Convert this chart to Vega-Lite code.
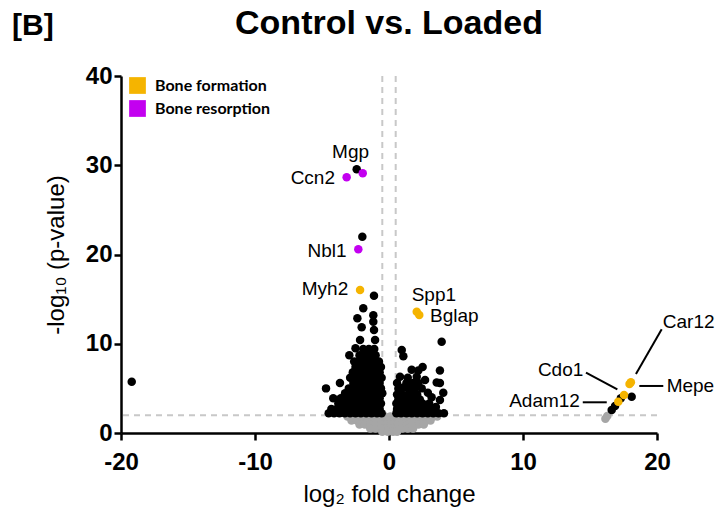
{
  "$schema": "https://vega.github.io/schema/vega-lite/v6.json",
  "width": 536,
  "height": 357,
  "autosize": {"type": "none"},
  "padding": {"left": 121, "top": 76, "right": 59, "bottom": 77},
  "background": "white",
  "config": {
    "view": {"stroke": null},
    "font": "Liberation Sans",
    "axis": {"grid": false}
  },
  "title": {
    "text": "Control vs. Loaded",
    "fontSize": 34,
    "fontWeight": "bold",
    "font": "Liberation Sans",
    "color": "black",
    "anchor": "middle",
    "frame": "group",
    "baseline": "alphabetic",
    "offset": -57
  },
  "datasets": {
    "pts": [
      {"x": -3.1, "y": 1.85, "g": "n"}, {"x": -2.7, "y": 1.85, "g": "n"}, {"x": -2.3, "y": 1.85, "g": "n"}, {"x": -1.9, "y": 1.85, "g": "n"}, {"x": -1.5, "y": 1.85, "g": "n"}, {"x": -1.1, "y": 1.85, "g": "n"}, {"x": -0.7, "y": 1.85, "g": "n"}, {"x": -0.3, "y": 1.85, "g": "n"}, {"x": 0.1, "y": 1.85, "g": "n"}, {"x": 0.5, "y": 1.85, "g": "n"}, {"x": 0.9, "y": 1.85, "g": "n"}, {"x": 1.3, "y": 1.85, "g": "n"}, {"x": 1.7, "y": 1.85, "g": "n"}, {"x": 2.1, "y": 1.85, "g": "n"}, {"x": 2.5, "y": 1.85, "g": "n"}, {"x": 2.9, "y": 1.85, "g": "n"}, {"x": 3.3, "y": 1.85, "g": "n"}, {"x": 3.6, "y": 1.85, "g": "n"},
      {"x": -2.8, "y": 1.4, "g": "n"}, {"x": -2.4, "y": 1.4, "g": "n"}, {"x": -2.0, "y": 1.4, "g": "n"}, {"x": -1.6, "y": 1.4, "g": "n"}, {"x": -1.2, "y": 1.4, "g": "n"}, {"x": -0.8, "y": 1.4, "g": "n"}, {"x": -0.4, "y": 1.4, "g": "n"}, {"x": 0.0, "y": 1.4, "g": "n"}, {"x": 0.4, "y": 1.4, "g": "n"}, {"x": 0.8, "y": 1.4, "g": "n"}, {"x": 1.2, "y": 1.4, "g": "n"}, {"x": 1.6, "y": 1.4, "g": "n"}, {"x": 2.0, "y": 1.4, "g": "n"}, {"x": 2.4, "y": 1.4, "g": "n"}, {"x": 2.8, "y": 1.4, "g": "n"}, {"x": 3.1, "y": 1.4, "g": "n"},
      {"x": -2.2, "y": 0.95, "g": "n"}, {"x": -1.8, "y": 0.95, "g": "n"}, {"x": -1.4, "y": 0.95, "g": "n"}, {"x": -1.0, "y": 0.95, "g": "n"}, {"x": -0.6, "y": 0.95, "g": "n"}, {"x": -0.2, "y": 0.95, "g": "n"}, {"x": 0.2, "y": 0.95, "g": "n"}, {"x": 0.6, "y": 0.95, "g": "n"}, {"x": 1.0, "y": 0.95, "g": "n"}, {"x": 1.4, "y": 0.95, "g": "n"}, {"x": 1.8, "y": 0.95, "g": "n"}, {"x": 2.2, "y": 0.95, "g": "n"}, {"x": 2.6, "y": 0.95, "g": "n"},
      {"x": -1.4, "y": 0.5, "g": "n"}, {"x": -1.0, "y": 0.5, "g": "n"}, {"x": -0.6, "y": 0.5, "g": "n"}, {"x": -0.2, "y": 0.5, "g": "n"}, {"x": 0.2, "y": 0.5, "g": "n"}, {"x": 0.6, "y": 0.5, "g": "n"}, {"x": 1.0, "y": 0.5, "g": "n"}, {"x": 1.4, "y": 0.5, "g": "n"}, {"x": 1.8, "y": 0.5, "g": "n"},
      {"x": -0.5, "y": 0.15, "g": "n"}, {"x": -0.1, "y": 0.15, "g": "n"}, {"x": 0.3, "y": 0.15, "g": "n"}, {"x": 0.6, "y": 0.15, "g": "n"},
      {"x": 16.29, "y": 1.9, "g": "n"}, {"x": 16.15, "y": 1.6, "g": "n"},

      {"x": -4.5, "y": 2.2, "g": "s"}, {"x": -4.1, "y": 2.2, "g": "s"}, {"x": -3.7, "y": 2.2, "g": "s"}, {"x": -3.3, "y": 2.2, "g": "s"}, {"x": -2.9, "y": 2.2, "g": "s"}, {"x": -2.5, "y": 2.2, "g": "s"}, {"x": -2.1, "y": 2.2, "g": "s"}, {"x": -1.7, "y": 2.2, "g": "s"}, {"x": -1.3, "y": 2.2, "g": "s"}, {"x": -0.9, "y": 2.2, "g": "s"}, {"x": -0.55, "y": 2.2, "g": "s"},
      {"x": -4.3, "y": 2.7, "g": "s"}, {"x": -3.9, "y": 2.7, "g": "s"}, {"x": -3.5, "y": 2.7, "g": "s"}, {"x": -3.1, "y": 2.7, "g": "s"}, {"x": -2.7, "y": 2.7, "g": "s"}, {"x": -2.3, "y": 2.7, "g": "s"}, {"x": -1.9, "y": 2.7, "g": "s"}, {"x": -1.5, "y": 2.7, "g": "s"}, {"x": -1.1, "y": 2.7, "g": "s"}, {"x": -0.7, "y": 2.7, "g": "s"},
      {"x": -3.78, "y": 3.3, "g": "s"}, {"x": -3.4, "y": 3.3, "g": "s"}, {"x": -3.0, "y": 3.3, "g": "s"}, {"x": -2.6, "y": 3.3, "g": "s"}, {"x": -2.2, "y": 3.3, "g": "s"}, {"x": -1.8, "y": 3.3, "g": "s"}, {"x": -1.4, "y": 3.3, "g": "s"}, {"x": -1.0, "y": 3.3, "g": "s"}, {"x": -0.6, "y": 3.3, "g": "s"},
      {"x": -4.16, "y": 3.9, "g": "s"}, {"x": -3.6, "y": 3.9, "g": "s"}, {"x": -3.1, "y": 3.9, "g": "s"}, {"x": -2.7, "y": 3.9, "g": "s"}, {"x": -2.3, "y": 3.9, "g": "s"}, {"x": -1.9, "y": 3.9, "g": "s"}, {"x": -1.5, "y": 3.9, "g": "s"}, {"x": -1.1, "y": 3.9, "g": "s"}, {"x": -0.7, "y": 3.9, "g": "s"},
      {"x": -3.28, "y": 4.45, "g": "s"}, {"x": -2.8, "y": 4.45, "g": "s"}, {"x": -2.4, "y": 4.45, "g": "s"}, {"x": -2.0, "y": 4.45, "g": "s"}, {"x": -1.6, "y": 4.45, "g": "s"}, {"x": -1.2, "y": 4.45, "g": "s"}, {"x": -0.8, "y": 4.45, "g": "s"}, {"x": -0.5, "y": 4.45, "g": "s"},
      {"x": -4.7, "y": 5.0, "g": "s"}, {"x": -3.0, "y": 5.0, "g": "s"}, {"x": -2.6, "y": 5.0, "g": "s"}, {"x": -2.2, "y": 5.0, "g": "s"}, {"x": -1.8, "y": 5.0, "g": "s"}, {"x": -1.4, "y": 5.0, "g": "s"}, {"x": -1.0, "y": 5.0, "g": "s"}, {"x": -0.6, "y": 5.0, "g": "s"},
      {"x": -3.66, "y": 5.6, "g": "s"}, {"x": -2.66, "y": 5.6, "g": "s"}, {"x": -2.3, "y": 5.6, "g": "s"}, {"x": -1.9, "y": 5.6, "g": "s"}, {"x": -1.5, "y": 5.6, "g": "s"}, {"x": -1.1, "y": 5.6, "g": "s"}, {"x": -0.7, "y": 5.6, "g": "s"},
      {"x": -2.9, "y": 6.2, "g": "s"}, {"x": -2.5, "y": 6.2, "g": "s"}, {"x": -2.1, "y": 6.2, "g": "s"}, {"x": -1.7, "y": 6.2, "g": "s"}, {"x": -1.3, "y": 6.2, "g": "s"}, {"x": -0.9, "y": 6.2, "g": "s"}, {"x": -0.55, "y": 6.2, "g": "s"},
      {"x": -2.7, "y": 6.8, "g": "s"}, {"x": -2.3, "y": 6.8, "g": "s"}, {"x": -1.9, "y": 6.8, "g": "s"}, {"x": -1.5, "y": 6.8, "g": "s"}, {"x": -1.1, "y": 6.8, "g": "s"}, {"x": -0.7, "y": 6.8, "g": "s"},
      {"x": -2.5, "y": 7.4, "g": "s"}, {"x": -2.1, "y": 7.4, "g": "s"}, {"x": -1.7, "y": 7.4, "g": "s"}, {"x": -1.3, "y": 7.4, "g": "s"}, {"x": -0.9, "y": 7.4, "g": "s"}, {"x": -0.6, "y": 7.4, "g": "s"},
      {"x": -2.6, "y": 8.0, "g": "s"}, {"x": -2.29, "y": 8.0, "g": "s"}, {"x": -1.9, "y": 8.0, "g": "s"}, {"x": -1.5, "y": 8.0, "g": "s"}, {"x": -1.1, "y": 8.0, "g": "s"}, {"x": -0.75, "y": 8.0, "g": "s"},
      {"x": -2.96, "y": 8.7, "g": "s"}, {"x": -2.2, "y": 8.7, "g": "s"}, {"x": -1.8, "y": 8.7, "g": "s"}, {"x": -1.4, "y": 8.7, "g": "s"}, {"x": -1.0, "y": 8.7, "g": "s"},
      {"x": -2.5, "y": 9.5, "g": "s"}, {"x": -1.92, "y": 9.4, "g": "s"}, {"x": -1.5, "y": 9.4, "g": "s"}, {"x": -1.1, "y": 9.4, "g": "s"},
      {"x": -2.16, "y": 10.42, "g": "s"}, {"x": -1.04, "y": 10.42, "g": "s"}, {"x": -1.12, "y": 11.54, "g": "s"}, {"x": -2.04, "y": 11.84, "g": "s"}, {"x": -1.17, "y": 12.47, "g": "s"}, {"x": -2.36, "y": 12.85, "g": "s"}, {"x": -1.17, "y": 13.2, "g": "s"}, {"x": -1.92, "y": 13.97, "g": "s"}, {"x": -1.12, "y": 15.38, "g": "s"}, {"x": -1.99, "y": 22.0, "g": "s"}, {"x": -2.41, "y": 29.55, "g": "s"},
      {"x": -19.2, "y": 5.75, "g": "s"},

      {"x": 0.55, "y": 2.2, "g": "s"}, {"x": 0.9, "y": 2.2, "g": "s"}, {"x": 1.3, "y": 2.2, "g": "s"}, {"x": 1.7, "y": 2.2, "g": "s"}, {"x": 2.1, "y": 2.2, "g": "s"}, {"x": 2.5, "y": 2.2, "g": "s"}, {"x": 2.9, "y": 2.2, "g": "s"}, {"x": 3.3, "y": 2.2, "g": "s"}, {"x": 3.7, "y": 2.2, "g": "s"}, {"x": 4.1, "y": 2.2, "g": "s"},
      {"x": 0.6, "y": 2.7, "g": "s"}, {"x": 1.0, "y": 2.7, "g": "s"}, {"x": 1.4, "y": 2.7, "g": "s"}, {"x": 1.8, "y": 2.7, "g": "s"}, {"x": 2.2, "y": 2.7, "g": "s"}, {"x": 2.6, "y": 2.7, "g": "s"}, {"x": 3.0, "y": 2.7, "g": "s"}, {"x": 3.5, "y": 2.9, "g": "s"},
      {"x": 0.55, "y": 3.3, "g": "s"}, {"x": 0.9, "y": 3.3, "g": "s"}, {"x": 1.3, "y": 3.3, "g": "s"}, {"x": 1.7, "y": 3.3, "g": "s"}, {"x": 2.1, "y": 3.3, "g": "s"}, {"x": 2.5, "y": 3.3, "g": "s"}, {"x": 3.0, "y": 3.3, "g": "s"},
      {"x": 0.7, "y": 3.75, "g": "s"}, {"x": 1.1, "y": 3.75, "g": "s"}, {"x": 1.5, "y": 3.75, "g": "s"}, {"x": 1.9, "y": 3.75, "g": "s"}, {"x": 2.3, "y": 3.75, "g": "s"}, {"x": 3.18, "y": 4.0, "g": "s"}, {"x": 3.8, "y": 3.7, "g": "s"},
      {"x": 0.6, "y": 4.3, "g": "s"}, {"x": 1.0, "y": 4.3, "g": "s"}, {"x": 1.4, "y": 4.3, "g": "s"}, {"x": 1.8, "y": 4.3, "g": "s"}, {"x": 2.1, "y": 4.3, "g": "s"}, {"x": 2.9, "y": 4.5, "g": "s"}, {"x": 4.05, "y": 4.5, "g": "s"},
      {"x": 0.7, "y": 4.95, "g": "s"}, {"x": 1.07, "y": 5.1, "g": "s"}, {"x": 1.5, "y": 4.95, "g": "s"}, {"x": 1.9, "y": 4.95, "g": "s"}, {"x": 2.44, "y": 5.0, "g": "s"},
      {"x": 0.6, "y": 5.6, "g": "s"}, {"x": 1.3, "y": 5.6, "g": "s"}, {"x": 1.8, "y": 5.6, "g": "s"}, {"x": 2.2, "y": 5.6, "g": "s"}, {"x": 2.69, "y": 5.95, "g": "s"}, {"x": 3.56, "y": 5.65, "g": "s"}, {"x": 3.8, "y": 5.6, "g": "s"},
      {"x": 0.82, "y": 6.3, "g": "s"}, {"x": 1.4, "y": 6.2, "g": "s"}, {"x": 2.07, "y": 6.3, "g": "s"},
      {"x": 1.69, "y": 7.1, "g": "s"}, {"x": 2.19, "y": 7.0, "g": "s"}, {"x": 2.51, "y": 7.4, "g": "s"}, {"x": 3.8, "y": 7.0, "g": "s"}, {"x": 1.07, "y": 8.6, "g": "s"}, {"x": 0.95, "y": 9.3, "g": "s"}, {"x": 3.93, "y": 10.23, "g": "s"},
      {"x": 16.62, "y": 2.58, "g": "s"}, {"x": 16.87, "y": 3.03, "g": "s"}, {"x": 17.3, "y": 3.9, "g": "s"}, {"x": 18.11, "y": 4.07, "g": "s"},

      {"x": -2.16, "y": 16.02, "g": "Bone formation"},
      {"x": 2.07, "y": 13.59, "g": "Bone formation"},
      {"x": 2.26, "y": 13.22, "g": "Bone formation"},
      {"x": 17.11, "y": 3.51, "g": "Bone formation"},
      {"x": 17.54, "y": 4.26, "g": "Bone formation"},
      {"x": 17.95, "y": 5.5, "g": "Bone formation"},
      {"x": 18.05, "y": 5.7, "g": "Bone formation"},
      {"x": -1.96, "y": 29.1, "g": "Bone resorption"},
      {"x": -3.16, "y": 28.65, "g": "Bone resorption"},
      {"x": -2.29, "y": 20.58, "g": "Bone resorption"}
    ],
    "labels": [
      {"t": "Mgp", "x": -2.87, "y": 30.81, "side": "c"},
      {"t": "Ccn2", "x": -4.03, "y": 27.9, "side": "r"},
      {"t": "Nbl1", "x": -3.16, "y": 19.69, "side": "r"},
      {"t": "Myh2", "x": -3.04, "y": 15.46, "side": "r"},
      {"t": "Spp1", "x": 1.69, "y": 14.82, "side": "l"},
      {"t": "Bglap", "x": 3.06, "y": 12.47, "side": "l"},
      {"t": "Car12", "x": 20.43, "y": 11.8, "side": "l"},
      {"t": "Mepe", "x": 20.72, "y": 4.63, "side": "l"},
      {"t": "Cdo1", "x": 14.5, "y": 6.39, "side": "r"},
      {"t": "Adam12", "x": 14.25, "y": 2.88, "side": "r"}
    ],
    "leaders": [
      {"x": 20.35, "y": 11.62, "x2": 18.43, "y2": 6.61},
      {"x": 18.68, "y": 5.27, "x2": 20.47, "y2": 5.27},
      {"x": 14.7, "y": 6.76, "x2": 17.04, "y2": 4.9},
      {"x": 14.46, "y": 3.44, "x2": 16.25, "y2": 3.44}
    ]
  },
  "layer": [
    {
      "data": {"values": [{"v": -0.5}, {"v": 0.5}]},
      "mark": {"type": "rule", "color": "#c8c8c8", "strokeWidth": 2, "strokeDash": [6, 5]},
      "encoding": {"x": {"field": "v", "type": "quantitative", "scale": {"domain": [-20, 20], "nice": false}}}
    },
    {
      "data": {"values": [{"v": 2}]},
      "mark": {"type": "rule", "color": "#c8c8c8", "strokeWidth": 2, "strokeDash": [6, 5]},
      "encoding": {"y": {"field": "v", "type": "quantitative", "scale": {"domain": [0, 40], "nice": false}}}
    },
    {
      "data": {"name": "pts"},
      "mark": {"type": "circle", "size": 72, "opacity": 1},
      "encoding": {
        "x": {
          "field": "x", "type": "quantitative",
          "scale": {"domain": [-20, 20], "nice": false, "zero": false},
          "axis": {
            "values": [-20, -10, 0, 10, 20],
            "labelExpr": "'' + datum.value",
            "title": "log₂ fold change",
            "titleFontSize": 24, "titleFontWeight": "normal", "titleColor": "black", "titleFont": "Liberation Sans",
            "titlePadding": 8,
            "labelFontSize": 24, "labelFontWeight": "bold", "labelColor": "black", "labelFont": "Liberation Sans",
            "labelPadding": 10, "labelFlush": false,
            "domainColor": "black", "domainWidth": 2.5,
            "tickColor": "black", "tickWidth": 2.5, "tickSize": 7
          }
        },
        "y": {
          "field": "y", "type": "quantitative",
          "scale": {"domain": [0, 40], "nice": false},
          "axis": {
            "values": [0, 10, 20, 30, 40],
            "title": "-log₁₀ (p-value)",
            "titleFontSize": 24, "titleFontWeight": "normal", "titleColor": "black", "titleFont": "Liberation Sans",
            "titlePadding": 17,
            "labelFontSize": 24, "labelFontWeight": "bold", "labelColor": "black", "labelFont": "Liberation Sans",
            "labelPadding": 2, "labelFlush": false,
            "domainColor": "black", "domainWidth": 2.5,
            "tickColor": "black", "tickWidth": 2.5, "tickSize": 7
          }
        },
        "color": {
          "field": "g", "type": "nominal",
          "scale": {"domain": ["n", "s", "Bone formation", "Bone resorption"], "range": ["#a6a6a6", "#000000", "#f5b400", "#c300f0"]},
          "legend": {
            "values": ["Bone formation", "Bone resorption"],
            "title": null,
            "orient": "none",
            "legendX": 8,
            "legendY": 1,
            "padding": 0,
            "symbolType": "square",
            "symbolSize": 280,
            "symbolStrokeWidth": 0,
            "symbolOpacity": 1,
            "labelFont": "Lato",
            "labelFontWeight": "bold",
            "labelFontSize": 16,
            "labelColor": "black",
            "labelOffset": 9,
            "rowPadding": 6
          }
        }
      }
    },
    {
      "data": {"name": "leaders"},
      "mark": {"type": "rule", "color": "black", "strokeWidth": 2},
      "encoding": {
        "x": {"field": "x", "type": "quantitative"},
        "y": {"field": "y", "type": "quantitative"},
        "x2": {"field": "x2"},
        "y2": {"field": "y2"}
      }
    },
    {
      "data": {"name": "labels"},
      "transform": [{"filter": "datum.side === 'r'"}],
      "mark": {"type": "text", "align": "right", "baseline": "alphabetic", "fontSize": 19, "font": "Liberation Sans", "color": "black"},
      "encoding": {
        "x": {"field": "x", "type": "quantitative"},
        "y": {"field": "y", "type": "quantitative"},
        "text": {"field": "t"}
      }
    },
    {
      "data": {"name": "labels"},
      "transform": [{"filter": "datum.side === 'l'"}],
      "mark": {"type": "text", "align": "left", "baseline": "alphabetic", "fontSize": 19, "font": "Liberation Sans", "color": "black"},
      "encoding": {
        "x": {"field": "x", "type": "quantitative"},
        "y": {"field": "y", "type": "quantitative"},
        "text": {"field": "t"}
      }
    },
    {
      "data": {"name": "labels"},
      "transform": [{"filter": "datum.side === 'c'"}],
      "mark": {"type": "text", "align": "center", "baseline": "alphabetic", "fontSize": 19, "font": "Liberation Sans", "color": "black"},
      "encoding": {
        "x": {"field": "x", "type": "quantitative"},
        "y": {"field": "y", "type": "quantitative"},
        "text": {"field": "t"}
      }
    },
    {
      "data": {"values": [{"t": "[B]", "x": -28.13, "y": 44.6}]},
      "mark": {"type": "text", "align": "left", "baseline": "alphabetic", "fontSize": 30, "fontWeight": "bold", "font": "Liberation Sans", "color": "black"},
      "encoding": {
        "x": {"field": "x", "type": "quantitative"},
        "y": {"field": "y", "type": "quantitative"},
        "text": {"field": "t"}
      }
    }
  ]
}
